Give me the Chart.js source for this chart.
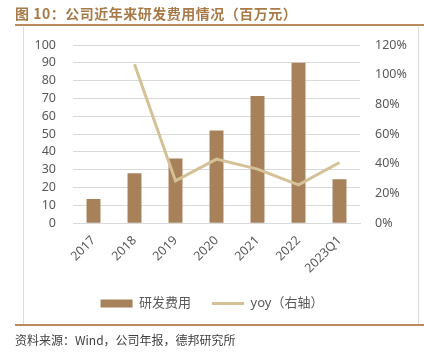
<!DOCTYPE html>
<html>
<head>
<meta charset="utf-8">
<script src="https://cdn.jsdelivr.net/npm/chart.js@4/dist/chart.umd.min.js"></script>
<style>
  html, body { margin: 0; padding: 0; background: #fff; }
  #wrap { position: relative; width: 424px; height: 360px; overflow: hidden; }
  #c { position: absolute; left: 0; top: 0; }
  .ov { position: absolute; pointer-events: none; }
  #title { left: 15px; top: 3px; font: bold 14px 'Noto Sans CJK SC', sans-serif; color: #a87a48; white-space: nowrap; letter-spacing: 0.5px; }
  #topline { left: 15px; top: 24px; width: 409px; height: 2px; background: #bb8a5f; }
  #botline { left: 15px; top: 324px; width: 409px; height: 2px; background: #bb8a5f; }
  #lframe { left: 23px; top: 27px; width: 1px; height: 297px; background: #dcdcdc; }
  #rframe { left: 418px; top: 27px; width: 1px; height: 297px; background: #dcdcdc; }
  #src { left: 15px; top: 331px; font: 12px 'Noto Sans CJK SC', sans-serif; color: #404040; white-space: nowrap; }
</style>
</head>
<body>
<div id="wrap">
  <canvas id="c" width="424" height="360"></canvas>
  <div class="ov" id="title">图 10：公司近年来研发费用情况（百万元）</div>
  <div class="ov" id="topline"></div>
  <div class="ov" id="lframe"></div>
  <div class="ov" id="rframe"></div>
  <div class="ov" id="botline"></div>
  <div class="ov" id="src">资料来源：Wind，公司年报，德邦研究所</div>
</div>
<script>
const categories = ['2017', '2018', '2019', '2020', '2021', '2022', '2023Q1'];
const rdExpense = [13.6, 28.1, 36.3, 52.0, 71.4, 90.0, 24.7];
const yoy = [null, 1.07, 0.285, 0.432, 0.364, 0.258, 0.409];
const leftTicks = [0, 10, 20, 30, 40, 50, 60, 70, 80, 90, 100];
const rightTicks = [0, 0.2, 0.4, 0.6, 0.8, 1.0, 1.2];

const FONT = "'Noto Sans', 'Noto Sans CJK SC', sans-serif";
const GREY = '#595959';

new Chart(document.getElementById('c'), {
  data: {
    labels: categories,
    datasets: [
      {
        type: 'line',
        label: 'yoy（右轴）',
        data: yoy,
        yAxisID: 'y1',
        borderColor: '#d5c196',
        backgroundColor: '#d5c196',
        borderWidth: 3,
        pointRadius: 0,
        tension: 0,
        order: 0
      },
      {
        type: 'bar',
        label: '研发费用',
        data: rdExpense,
        yAxisID: 'y',
        backgroundColor: '#a6815a',
        borderWidth: 0,
        categoryPercentage: 1,
        barPercentage: 0.34,
        order: 1
      }
    ]
  },
  options: {
    responsive: false,
    animation: false,
    devicePixelRatio: 1,
    layout: { padding: { top: 45, left: 0, right: 0, bottom: 40 } },
    plugins: {
      tooltip: { enabled: false },
      legend: {
        position: 'bottom',
        reverse: true,
        labels: {
          usePointStyle: true,
          pointStyleWidth: 32,
          boxHeight: 8,
          padding: 21,
          color: GREY,
          font: { family: FONT, size: 13 },
          generateLabels(chart) {
            const items = Chart.defaults.plugins.legend.labels.generateLabels(chart);
            items.forEach(it => {
              const ds = chart.data.datasets[it.datasetIndex];
              it.pointStyle = ds.type === 'line' ? 'line' : 'rect';
              if (ds.type === 'line') { it.lineWidth = 3; it.strokeStyle = ds.borderColor; }
            });
            return items;
          }
        }
      }
    },
    scales: {
      x: {
        grid: { display: false },
        border: { display: true, color: '#d9d9d9', width: 1 },
        afterFit(axis) { axis.height -= 2; },
        ticks: {
          color: GREY,
          font: { family: FONT, size: 12.5 },
          maxRotation: 45,
          minRotation: 45,
          autoSkip: false,
          padding: 2
        }
      },
      y: {
        position: 'left',
        min: 0,
        max: 100,
        afterBuildTicks(axis) { axis.ticks = leftTicks.map(v => ({ value: v })); },
        afterFit(axis) { axis.width = 73; },
        grid: { color: '#d9d9d9', drawTicks: false, lineWidth: 1 },
        border: { display: false },
        ticks: {
          color: GREY,
          font: { family: FONT, size: 12.5 },
          autoSkip: false,
          padding: 17
        }
      },
      y1: {
        position: 'right',
        min: 0,
        max: 1.2,
        afterBuildTicks(axis) { axis.ticks = rightTicks.map(v => ({ value: v })); },
        afterFit(axis) { axis.width = 64; },
        grid: { display: false, drawTicks: false },
        border: { display: false },
        ticks: {
          color: GREY,
          font: { family: FONT, size: 12.5 },
          autoSkip: false,
          padding: 15,
          callback: v => Math.round(v * 100) + '%'
        }
      }
    }
  }
});
</script>
</body>
</html>
